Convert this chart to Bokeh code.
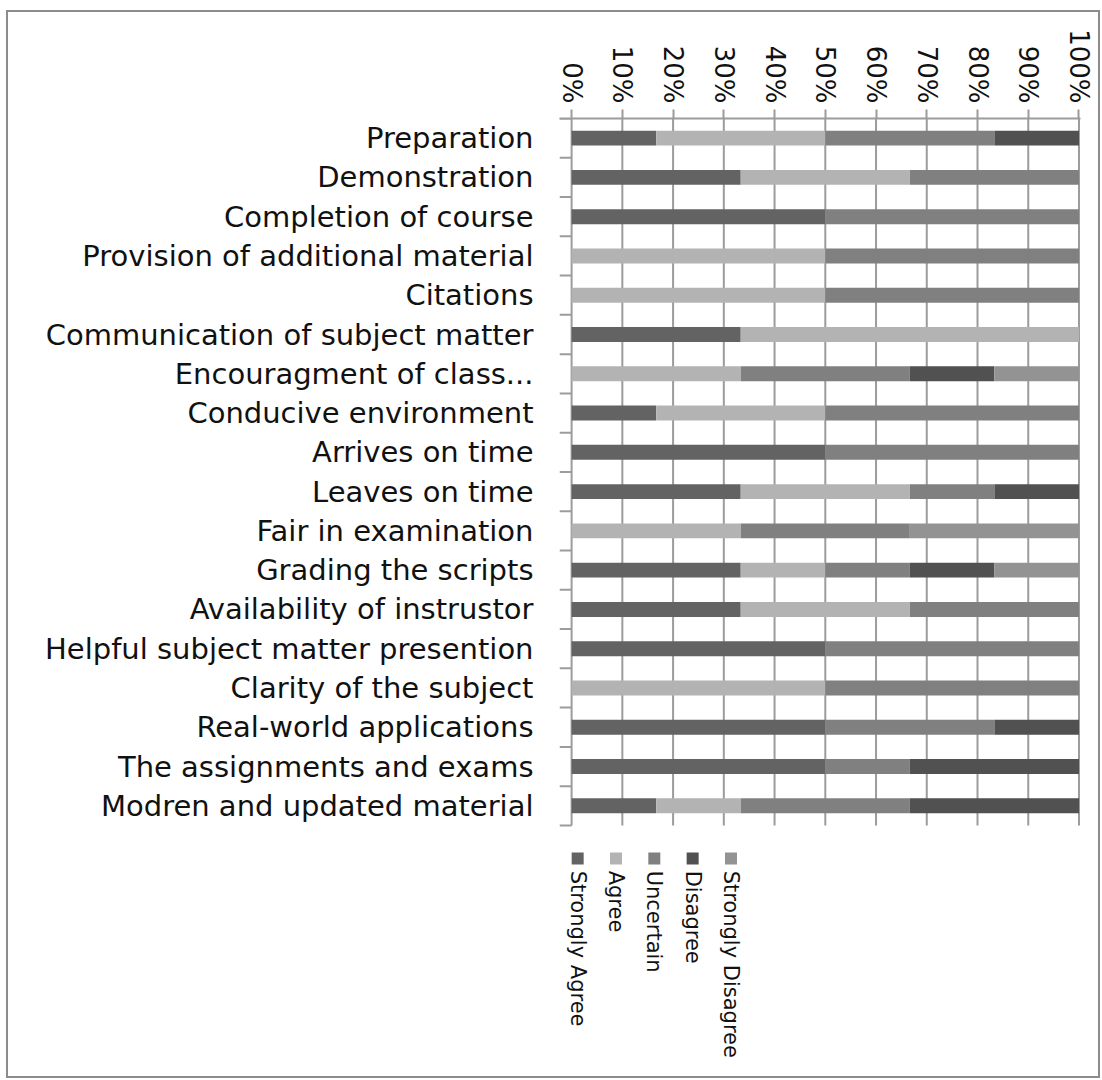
import math
from bokeh.plotting import figure
from bokeh.models import (Range1d, LinearAxis, FixedTicker, PrintfTickFormatter,
                          Label, ColumnDataSource)
from bokeh.embed import file_html
from bokeh.resources import INLINE

categories = [
    "Preparation", "Demonstration", "Completion of course",
    "Provision of additional material", "Citations",
    "Communication of subject matter", "Encouragment of class...",
    "Conducive environment", "Arrives on time", "Leaves on time",
    "Fair in examination", "Grading the scripts", "Availability of instrustor",
    "Helpful subject matter presention", "Clarity of the subject",
    "Real-world applications", "The assignments and exams",
    "Modren and updated material",
]
series = ["Strongly Agree", "Agree", "Uncertain", "Disagree", "Strongly Disagree"]
strongly_agree = [16.67, 33.33, 50, 0, 0, 33.33, 0, 16.67, 50, 33.33, 0, 33.33, 33.33, 50, 0, 50, 50, 16.67]
agree = [33.33, 33.33, 0, 50, 50, 66.67, 33.33, 33.33, 0, 33.33, 33.33, 16.67, 33.33, 0, 50, 0, 0, 16.67]
uncertain = [33.33, 33.34, 50, 50, 50, 0, 33.33, 50, 50, 16.67, 33.33, 16.67, 33.34, 50, 50, 33.33, 16.67, 33.33]
disagree = [16.67, 0, 0, 0, 0, 0, 16.67, 0, 0, 16.67, 0, 16.67, 0, 0, 0, 16.67, 33.33, 33.34]
strongly_disagree = [0, 0, 0, 0, 0, 0, 16.67, 0, 0, 0, 33.34, 16.66, 0, 0, 0, 0, 0, 0]
x_ticks = [0, 10, 20, 30, 40, 50, 60, 70, 80, 90, 100]

colors = ["#636363", "#b3b3b3", "#808080", "#515151", "#939393"]
GRID = "#9c9c9c"
FONT = "DejaVu Sans"

n = len(categories)
source = ColumnDataSource(dict(
    y=[i + 0.5 for i in range(n)],
    **{"Strongly Agree": strongly_agree, "Agree": agree, "Uncertain": uncertain,
       "Disagree": disagree, "Strongly Disagree": strongly_disagree}))

# layout (pixels)
FRAME_TOP, FRAME_BOTTOM = 106, 1064 - 2
ROWS_PX = 704
TICK_PX = 12
px_per_y = ROWS_PX / n
px_per_x = 503 / 100.0
y_bottom = (FRAME_BOTTOM - FRAME_TOP) / px_per_y
tick_len = TICK_PX / px_per_x

p = figure(width=1094, height=1068,
           x_range=Range1d(-tick_len, 100 + 1.5 / px_per_x),
           y_range=Range1d(y_bottom, 0),
           x_axis_location="above", y_axis_location=None,
           output_backend="svg", toolbar_location=None,
           min_border_left=551, min_border_right=22, min_border_top=FRAME_TOP,
           min_border_bottom=2)
p.styles = {"border": "2px solid #8c8c8c", "margin-left": "6px", "margin-top": "10px"}
p.outline_line_color = None
p.background_fill_color = "white"
p.xgrid.visible = False
p.ygrid.visible = False

# grid lines (x=0 doubles as the category axis line), only over the rows
p.segment(x0=x_ticks, y0=[0] * len(x_ticks), x1=x_ticks, y1=[n] * len(x_ticks),
          line_color=GRID, line_width=2)
# category boundary ticks on the left
bounds = list(range(n + 1))
p.segment(x0=[-tick_len] * len(bounds), y0=bounds, x1=[0] * len(bounds), y1=bounds,
          line_color=GRID, line_width=2)

p.hbar_stack(series, y="y", height=0.38, color=colors, line_color=None, source=source)

xa = p.xaxis[0]
xa.ticker = FixedTicker(ticks=x_ticks)
xa.formatter = PrintfTickFormatter(format="%d%%")
xa.major_label_orientation = -math.pi / 2
xa.major_tick_out = 9
xa.major_tick_in = 0
xa.minor_tick_line_color = None
xa.axis_line_color = GRID
xa.axis_line_width = 2
xa.major_tick_line_color = GRID
xa.major_tick_line_width = 2
xa.major_label_standoff = 6
xa.major_label_text_font = FONT
xa.major_label_text_font_size = "26px"
xa.major_label_text_color = "#111111"

label_axis = LinearAxis(ticker=FixedTicker(ticks=[i + 0.5 for i in range(n)]),
                        major_label_overrides={i + 0.5: c for i, c in enumerate(categories)},
                        major_tick_out=0, major_tick_in=0, major_label_standoff=26,
                        minor_tick_line_color=None, axis_line_color=None,
                        major_tick_line_color=None,
                        major_label_text_font=FONT, major_label_text_font_size="29px",
                        major_label_text_color="#111111")
p.add_layout(label_axis, "left")

# legend below the rows, rotated
leg_x = [(6 + i * 38) / px_per_x for i in range(len(series))]
leg_y = [n + 33 / px_per_y] * len(series)
p.scatter(x=leg_x, y=leg_y, marker="square", size=12, color=colors, line_color=None)
for name, cx in zip(series, leg_x):
    p.add_layout(Label(x=cx, y=n + 45 / px_per_y, text=name, angle=-math.pi / 2,
                       text_align="left", text_baseline="middle",
                       text_font=FONT, text_font_size="21px", text_color="#111111"))

open("out.html", "w").write(file_html(p, INLINE))
